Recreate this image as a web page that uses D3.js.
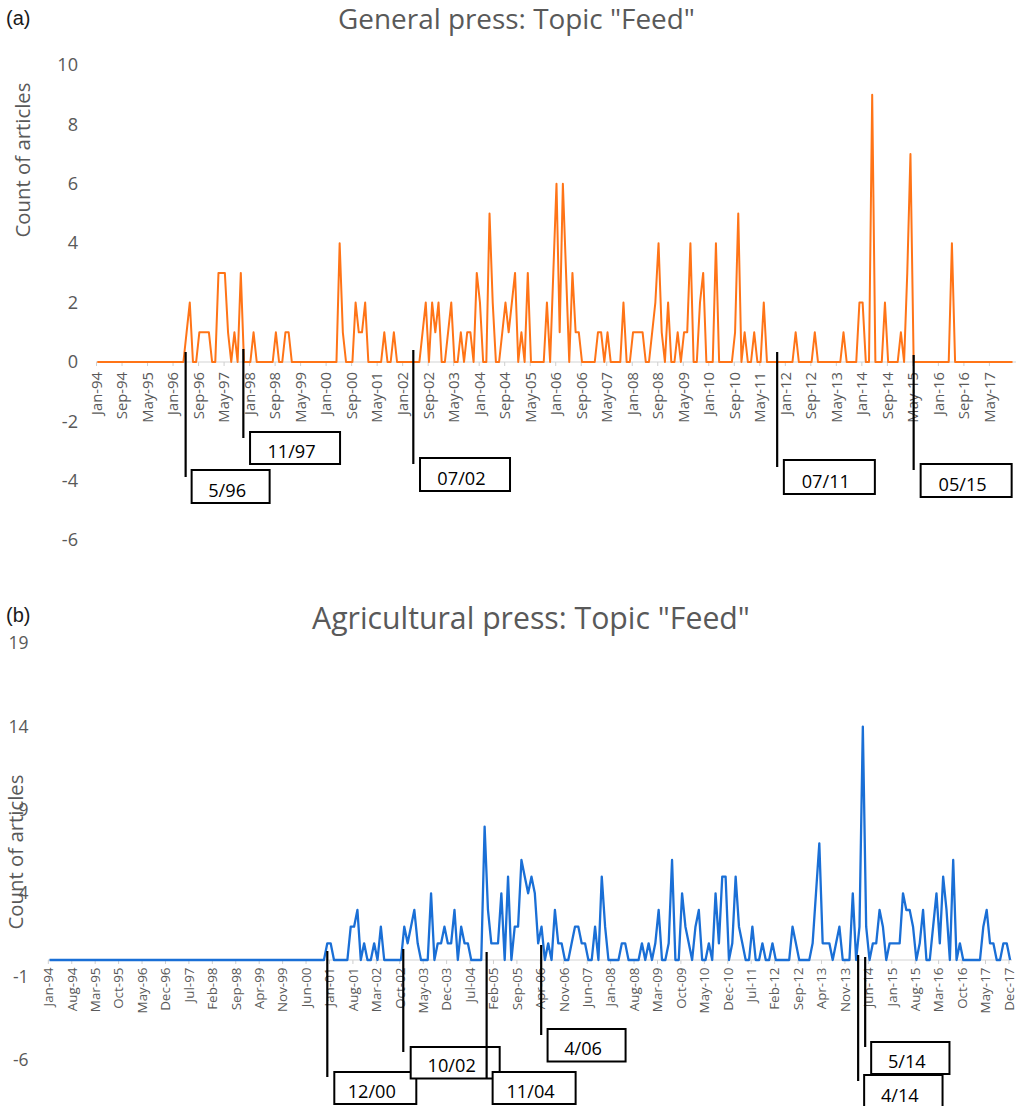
<!DOCTYPE html>
<html><head><meta charset="utf-8">
<script src="https://cdn.jsdelivr.net/npm/d3@7"></script>
<style>body{margin:0;background:#fff}svg{display:block}</style>
</head><body>
<svg id="c" width="1018" height="1106"></svg>
<script>
// ---------------- DATA ----------------
const generalTitle = 'General press: Topic "Feed"';
const agriTitle = 'Agricultural press: Topic "Feed"';
const yAxisTitle = "Count of articles";

const generalTickLabels = ["Jan-94","Sep-94","May-95","Jan-96","Sep-96","May-97","Jan-98","Sep-98","May-99","Jan-00","Sep-00","May-01","Jan-02","Sep-02","May-03","Jan-04","Sep-04","May-05","Jan-06","Sep-06","May-07","Jan-08","Sep-08","May-09","Jan-10","Sep-10","May-11","Jan-12","Sep-12","May-13","Jan-14","Sep-14","May-15","Jan-16","Sep-16","May-17"];
const agriTickLabels = ["Jan-94","Aug-94","Mar-95","Oct-95","May-96","Dec-96","Jul-97","Feb-98","Sep-98","Apr-99","Nov-99","Jun-00","Jan-01","Aug-01","Mar-02","Oct-02","May-03","Dec-03","Jul-04","Feb-05","Sep-05","Apr-06","Nov-06","Jun-07","Jan-08","Aug-08","Mar-09","Oct-09","May-10","Dec-10","Jul-11","Feb-12","Sep-12","Apr-13","Nov-13","Jun-14","Jan-15","Aug-15","Mar-16","Oct-16","May-17","Dec-17"];

const generalYTicks = [-6,-4,-2,0,2,4,6,8,10];
const agriYTicks = [-6,-1,4,9,14,19];

// monthly counts, Jan-94 .. Dec-17 (one row per year)
const generalCounts = [
0,0,0,0,0,0,0,0,0,0,0,0,
0,0,0,0,0,0,0,0,0,0,0,0,
0,0,0,0,1,2,0,0,1,1,1,1,
0,0,3,3,3,1,0,1,0,3,0,0,
0,1,0,0,0,0,0,0,1,0,0,1,
1,0,0,0,0,0,0,0,0,0,0,0,
0,0,0,0,4,1,0,0,0,2,1,1,
2,0,0,0,0,0,1,0,0,1,0,0,
0,0,0,0,0,0,1,2,0,2,1,2,
0,0,1,2,0,0,1,0,1,1,0,3,
2,0,0,5,2,0,0,1,2,1,2,3,
0,1,0,3,0,0,0,0,0,2,0,3,
6,1,6,3,0,3,1,1,0,0,0,0,
0,1,1,0,1,0,0,0,0,2,0,0,
1,1,1,1,0,0,1,2,4,1,0,2,
0,0,1,0,1,1,4,0,0,2,3,0,
0,0,4,0,0,0,0,0,1,5,0,1,
0,0,1,0,0,2,0,0,0,0,0,0,
0,0,0,1,0,0,0,0,0,1,0,0,
0,0,0,0,0,0,1,0,0,0,0,2,
2,0,0,9,0,0,0,2,0,0,0,0,
1,0,3,7,0,0,0,0,0,0,0,0,
0,0,0,0,4,0,0,0,0,0,0,0,
0,0,0,0,0,0,0,0,0,0,0,0
];
const agriCounts = [
0,0,0,0,0,0,0,0,0,0,0,0,
0,0,0,0,0,0,0,0,0,0,0,0,
0,0,0,0,0,0,0,0,0,0,0,0,
0,0,0,0,0,0,0,0,0,0,0,0,
0,0,0,0,0,0,0,0,0,0,0,0,
0,0,0,0,0,0,0,0,0,0,0,0,
0,0,0,0,0,0,0,0,0,0,0,1,
1,0,0,0,0,0,2,2,3,0,1,0,
0,1,0,2,0,0,0,0,0,0,2,1,
2,3,1,0,0,0,4,0,1,1,2,1,
1,3,0,2,1,1,0,0,0,0,8,3,
1,1,1,4,0,5,0,2,2,6,5,4,
5,4,1,2,0,1,0,3,1,1,0,0,
1,2,2,1,1,0,0,2,0,5,2,0,
0,0,0,1,1,0,0,0,0,1,0,1,
0,1,3,0,0,1,6,0,0,4,2,1,
0,2,3,0,0,1,0,4,1,5,5,0,
1,5,2,1,0,0,2,0,0,1,0,0,
1,0,0,0,0,0,2,1,0,0,0,0,
1,4,7,1,1,1,0,1,2,0,0,0,
4,0,2,14,2,0,1,1,3,2,0,1,
1,1,1,4,3,3,2,0,1,3,0,0,
2,4,1,5,3,0,6,0,1,0,0,0,
0,0,0,2,3,1,1,0,0,1,1,0
];

// event markers (label, position in months from Jan-94 as drawn)
const generalEvents = ["5/96","11/97","07/02","07/11","05/15"];
const generalEventMonth = [27.7, 45.8, 99.1, 213.2, 256.0];
const agriEvents = ["12/00","10/02","11/04","4/06","4/14","5/14"];
const agriEventMonth = [83.0, 105.7, 130.6, 146.9, 241.6, 243.7];

// ---------------- LAYOUT ----------------
const svg = d3.select("#c");
const FONT = "'Open Sans', 'Noto Sans', sans-serif";
const GREY = "#595959";

function fitSize(text, target, family) {
  const t = svg.append("text").attr("font-family", family).attr("font-size", 100).text(text);
  const w = t.node().getComputedTextLength();
  t.remove();
  return 100 * target / w;
}

const charts = [
  {
    tag: "(a)", tagY: 25, title: generalTitle, titleX: 516.5, titleY: 29, titleW: 357,
    data: generalCounts, color: "#ff7417", lw: 2,
    x0: 97.3, x1: 1012.5, axisX0: 96, axisX1: 1016, tickStep: 8, tickShift: -0.4,
    tickLabels: generalTickLabels, tickLabelW: 43, tickGap: 10,
    yDom: [-6, 10], yRange: [540.2, 65], yTicks: generalYTicks, yLabelX: 78, yLabelW: 20.7, yLabelSample: "10",
    yTitleX: 30, yTitleY: 160,
    events: generalEvents, eventMonth: generalEventMonth,
    ann: [
      {top: 352, bot: 477, dx: 6, w: 78, by: 470, bh: 33},
      {top: 349, bot: 438, dx: 6.7, w: 90, by: 432, bh: 32},
      {top: 350, bot: 464, dx: 6.7, w: 90, by: 458, bh: 33},
      {top: 352, bot: 467, dx: 6.7, w: 91, by: 460, bh: 34},
      {top: 355, bot: 470, dx: 7, w: 91, by: 464, bh: 33}
    ]
  },
  {
    tag: "(b)", tagY: 622, title: agriTitle, titleX: 531, titleY: 629, titleW: 438,
    data: agriCounts, color: "#1a6fd6", lw: 2.3,
    x0: 49.5, x1: 1010.1, axisX0: 48, axisX1: 1012, tickStep: 7, tickShift: -0.5,
    tickLabels: agriTickLabels, tickLabelW: 39, tickGap: 7.5,
    yDom: [-6, 19], yRange: [1060, 643.3], yTicks: agriYTicks, yLabelX: 28.5, yLabelW: 20, yLabelSample: "19",
    yTitleX: 22.5, yTitleY: 852,
    events: agriEvents, eventMonth: agriEventMonth,
    ann: [
      {top: 951, bot: 1077, dx: 7, w: 82, by: 1072, bh: 32},
      {top: 949, bot: 1052, dx: 7.4, w: 89, by: 1047, bh: 31.5},
      {top: 952, bot: 1078, dx: 6, w: 83, by: 1072, bh: 32},
      {top: 945, bot: 1035, dx: 6.4, w: 78, by: 1029, bh: 32.5},
      {top: 955, bot: 1081, dx: 6, w: 78.4, by: 1075, bh: 33},
      {top: 957, bot: 1047, dx: 6, w: 78.3, by: 1042, bh: 32}
    ]
  }
];

const boxFS = fitSize("07/02", 48.3, FONT);
const yTitleFS = fitSize(yAxisTitle, 155, FONT);

charts.forEach(c => {
  const g = svg.append("g");
  const n = c.data.length;
  const x = d3.scaleLinear().domain([0, n - 1]).range([c.x0, c.x1]);
  const y = d3.scaleLinear().domain(c.yDom).range(c.yRange);

  // panel tag
  g.append("text").attr("x", 6).attr("y", c.tagY)
    .attr("font-family", "'Liberation Sans', Arial, sans-serif").attr("font-size", 20)
    .attr("fill", "#1a1a1a").text(c.tag);

  // title
  g.append("text").attr("x", c.titleX).attr("y", c.titleY).attr("text-anchor", "middle")
    .attr("font-family", FONT).attr("font-size", fitSize(c.title, c.titleW, FONT))
    .attr("fill", GREY).text(c.title);

  // y axis title
  g.append("text").attr("transform", `translate(${c.yTitleX},${c.yTitleY}) rotate(-90)`)
    .attr("text-anchor", "middle").attr("font-family", FONT).attr("font-size", yTitleFS)
    .attr("fill", GREY).text(yAxisTitle);

  // y tick labels
  const yAx = g.append("g").attr("transform", `translate(${c.yLabelX},0)`)
    .call(d3.axisLeft(y).tickValues(c.yTicks).tickSize(0).tickPadding(0).tickFormat(d => String(d)));
  yAx.select(".domain").remove();
  yAx.selectAll("text").attr("font-family", FONT)
    .attr("font-size", fitSize(c.yLabelSample, c.yLabelW, FONT)).attr("fill", GREY);

  // category axis at 0
  const y0 = y(0);
  g.append("line").attr("x1", c.axisX0).attr("x2", c.axisX1).attr("y1", y0).attr("y2", y0)
    .attr("stroke", "#d4d4d4").attr("stroke-width", 1.2);
  const tickVals = c.tickLabels.map((_, i) => i * c.tickStep + c.tickShift);
  const xAx = g.append("g").attr("transform", `translate(0,${y0})`)
    .call(d3.axisBottom(x).tickValues(tickVals).tickSize(4).tickSizeOuter(0)
      .tickFormat((d, i) => c.tickLabels[i]));
  xAx.select(".domain").remove();
  xAx.selectAll(".tick line").attr("stroke", "#cfcfcf");
  const tfs = fitSize(c.tickLabels[0], c.tickLabelW, FONT);
  xAx.selectAll(".tick text")
    .attr("transform", "rotate(-90)")
    .attr("x", -c.tickGap).attr("y", 0).attr("dy", "0.36em")
    .attr("text-anchor", "end")
    .attr("font-family", FONT).attr("font-size", tfs).attr("fill", GREY);

  // series line
  const line = d3.line().x((d, i) => x(i)).y(d => y(d));
  g.append("path").datum(c.data).attr("d", line)
    .attr("fill", "none").attr("stroke", c.color).attr("stroke-width", c.lw)
    .attr("stroke-linejoin", "round");

  // event markers and boxes
  c.events.forEach((lab, i) => {
    const a = c.ann[i];
    const mx = x(c.eventMonth[i]);
    g.append("line").attr("x1", mx).attr("x2", mx).attr("y1", a.top).attr("y2", a.bot)
      .attr("stroke", "#000").attr("stroke-width", 2.2);
    g.append("rect").attr("x", mx + a.dx).attr("y", a.by).attr("width", a.w).attr("height", a.bh)
      .attr("fill", "#fff").attr("stroke", "#000").attr("stroke-width", 2);
    g.append("text").attr("x", mx + a.dx + a.w / 2 - 3.5).attr("y", a.by + a.bh - 6.5)
      .attr("text-anchor", "middle").attr("font-family", FONT).attr("font-size", boxFS)
      .attr("fill", "#000").text(lab);
  });
});
</script>
</body></html>
